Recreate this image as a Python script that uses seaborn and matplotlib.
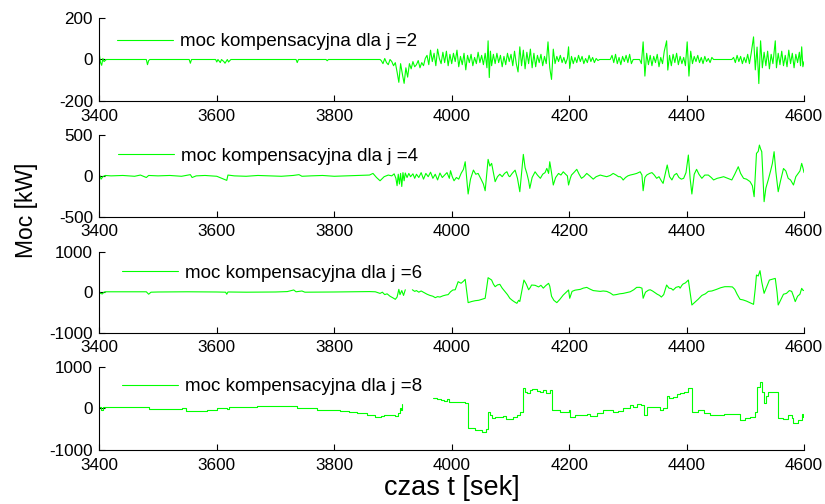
import numpy as np
import pandas as pd
import matplotlib
matplotlib.use("Agg")
import matplotlib.pyplot as plt
import seaborn as sns

# ---- axis ticks and labels -------------------------------------------------
time_ticks = [3400, 3600, 3800, 4000, 4200, 4400, 4600]
orders = [2, 4, 6, 8]
y_limits = [200, 500, 1000, 1000]
legend_text = "moc kompensacyjna dla j ={}"
x_label = "czas t [sek]"
y_label = "Moc [kW]"

# ---- compensating power, j = 2 ---------------------------------------------
t_j2 = [3400, 3402, 3404, 3406, 3408, 3412, 3480, 3482, 3484, 3486, 3553, 3555, 3557, 3598, 3600,
        3602, 3606, 3608, 3612, 3614, 3618, 3620, 3624, 3735, 3737, 3739, 3786, 3788, 3790, 3878,
        3880, 3883, 3886, 3889, 3892, 3895, 3898, 3901, 3904,
        3907, 3910, 3913, 3916, 3919, 3922, 3925,
        3928, 3931, 3934, 3937, 3940, 3943, 3946, 3949, 3952, 3955,
        3958, 3961, 3964, 3967, 3970, 3973, 3976, 3979, 3982, 3985, 3988, 3991, 3994, 3997, 4000,
        4003, 4006, 4009, 4012, 4015,
        4018, 4021, 4024, 4027, 4030, 4033, 4036, 4039, 4042, 4045, 4048, 4051, 4054, 4057, 4060,
        4062, 4064, 4066, 4068,
        4071, 4074, 4077, 4080, 4083, 4086, 4089, 4092, 4095, 4098, 4101, 4104, 4107, 4110,
        4113, 4116, 4119, 4122, 4125, 4128, 4131, 4134, 4137, 4140, 4143, 4146, 4149, 4152, 4155, 4158,
        4161, 4164, 4167, 4170, 4173, 4176, 4179, 4182, 4185, 4188, 4191, 4194, 4197, 4199, 4201,
        4204, 4207, 4210, 4213, 4216, 4219, 4222, 4225, 4228, 4231, 4234, 4237, 4240, 4243, 4246, 4249, 4252,
        4270, 4273, 4276, 4279, 4282, 4285, 4288, 4291, 4294, 4297, 4300, 4303, 4306, 4309, 4320,
        4323, 4326, 4329, 4332, 4335, 4338, 4341, 4344, 4347, 4350, 4353, 4356, 4359, 4362, 4366,
        4368, 4371, 4374, 4377, 4380, 4383, 4386, 4389, 4392, 4395,
        4398, 4401, 4404, 4407, 4410, 4413, 4416, 4419, 4422, 4425, 4428, 4431, 4434, 4437, 4440,
        4443, 4446, 4477,
        4480, 4483, 4486, 4489, 4492, 4495, 4498, 4501, 4504, 4507, 4510,
        4514, 4517, 4520, 4523, 4526, 4529, 4532, 4535, 4538, 4541, 4544, 4547, 4551, 4553, 4556,
        4559, 4562, 4565, 4568, 4571, 4574, 4577, 4580, 4583, 4586, 4589, 4592, 4594, 4596, 4598, 4600]
p_j2 = [25, -15, -28, 5, -10, 0, 0, -25, -5, 0, 0, -18, 0, 0, -12,
        0, -15, 0, -10, -18, 0, -12, 0, 0, -15, 0, 0, -6, 0, 0,
        -5, -20, 5, -15, -25, 0, -10, -30, -15,
        -60, -110, -20, -70, -115, -40, -85,
        -20, -45, -10, -35, -25, -5, -40, -15, -30, 5,
        20, -25, 45, -10, 30, -30, 50, 5, -20, 35, -15, 40, -30, 25, -20,
        30, -10, 45, -35, 15,
        -25, 30, -50, 20, -15, 25, -30, 10, -20, 35, -15, 20, -25, 30, -40,
        90, -87, 40, -30,
        25, -20, 30, -15, 20, -35, 15, -25, 30, -10, 25, -30, 40, -20,
        -60, 61, -30, 45, -45, 35, -20, 50, -40, 30, -35, 20, -15, 25, -30, 15,
        -20, 85, -40, -96, 50, -20, 15, -10, 20, -15, 10, -20, 5, 61, -43,
        15, -20, 10, -15, 20, -10, 15, -20, 5, -15, 20, -10, 10, -15, 5, -5, 0,
        0, 20, -15, 25, -20, 10, -25, 15, -10, 20, -15, 25, -20, 0, 0,
        -20, 85, -80, 30, -25, 20, -30, 15, -15, 25, -35, 10, -20, 40, 90,
        -51, 20, -30, 25, -15, 30, -25, 15, -20, 10,
        -30, 85, -80, 40, -20, 15, -10, 20, -15, 10, -20, 15, -10, 5, -15,
        10, 0, 0,
        10, -15, 20, -10, 15, -20, 10, -15, 25, -20, 30,
        109, -50, 60, -116, 90, -40, 35, -30, 40, -45, 25, -20, 90, -40, 30,
        -25, 40, -30, 20, -35, 45, -20, 30, -40, 25, -15, 35, -30, 61, -35, -10]

# ---- compensating power, j = 4 ---------------------------------------------
t_j4 = [3400, 3403, 3406, 3410, 3420, 3440, 3460, 3470, 3480, 3484, 3500, 3520, 3540, 3555, 3558,
        3565, 3580, 3600, 3617, 3619, 3630, 3650, 3670, 3690, 3710, 3730, 3740, 3745, 3760, 3780,
        3800, 3820, 3840, 3860, 3866, 3872, 3878, 3885, 3892, 3898, 3902,
        3905, 3907, 3909, 3911, 3913, 3915, 3917, 3919, 3921, 3924, 3927, 3930, 3934, 3937, 3940,
        3944, 3948, 3952, 3956, 3960, 3964, 3968, 3972, 3976, 3980, 3984, 3988, 3992, 3996, 3998, 4001,
        4004, 4008, 4012, 4016, 4020, 4023, 4028, 4032, 4037, 4041, 4045, 4050, 4054, 4057, 4062,
        4065, 4068, 4071, 4074, 4078, 4082, 4086, 4090, 4094, 4097, 4099, 4103, 4108, 4112, 4116,
        4119, 4122, 4125, 4128, 4131, 4133, 4137, 4142, 4146, 4151, 4155, 4159, 4162, 4165, 4167,
        4170, 4173, 4177, 4182, 4186, 4190, 4194, 4197, 4199,
        4202, 4204, 4208, 4213, 4217, 4221, 4225, 4230, 4235, 4241, 4246, 4253, 4258, 4264, 4270,
        4275, 4280, 4284, 4287, 4290, 4292, 4296, 4300, 4304, 4310, 4315, 4321, 4324, 4326, 4329,
        4332, 4337, 4341, 4345, 4349, 4353, 4357, 4360, 4364, 4367, 4371, 4375, 4379, 4383, 4387,
        4391, 4395, 4399,
        4403, 4406, 4409, 4413, 4417, 4421, 4426, 4431, 4437, 4442, 4446, 4452, 4458, 4463, 4470,
        4477, 4482, 4488, 4492, 4497, 4502, 4508, 4512, 4515, 4519, 4522, 4524, 4526, 4528, 4530,
        4532, 4535, 4539, 4543, 4546, 4549, 4552, 4556, 4560, 4565, 4569, 4573, 4577, 4582, 4586,
        4590, 4593, 4596, 4598, 4600]
p_j4 = [20, -40, -10, 5, 0, 5, -5, 10, -20, 5, 0, 5, -5, 15, -20,
        0, 5, -5, -55, 10, 0, -5, 5, 0, -5, 5, 15, -5, 0, 5,
        -5, 0, 5, 10, 30, -20, -60, -10, 10, 0, 25,
        -30, -120, 20, -100, 30, -130, 40, -60, 35, -20, 30, -10, 25, -30, 20,
        -20, 40, -40, 30, -10, 45, -30, 20, -50, 35, -20, 10, 40, -30, 63, -10,
        -60, -20, -40, 30, 80, 173, -222, -40, 71, 20, 30, -40, -100, -182, 202,
        120, 153, 40, -71, -10, 20, -10, 30, 51, 0, -10, 30, 70, -30, -194,
        40, 263, 100, 30, -60, -153, -20, 50, 10, -30, 20, 40, 92, 30, 173,
        40, -112, -20, 30, 10, 50, 20, 0, -112,
        -30, 10, 40, 80, 20, -30, -10, 30, 0, -40, -10, 10, 0, -10, 5,
        30, 10, -10, -10, -30, -51, -20, 0, 10, 20, 30, 50, 10, -182, -20,
        10, 30, 40, 10, -30, -10, -60, -92, 40, 133, -10, -50, 10, 30, -20,
        -40, -30, 40,
        255, -30, -222, 20, 80, 20, -30, 10, 10, -20, -50, -30, -20, -10, -30,
        -50, 20, 112, 30, -30, -40, -70, -120, -255, 275, 300, 377, 330, 296, 0,
        -316, -150, -50, 60, 150, 296, 50, -194, -60, 90, 60, -30, -50, -112, -10,
        30, 60, 153, 100, 40]

# ---- compensating power, j = 6 (NaN marks a gap in the record) -------------
t_j6 = [3400, 3402, 3405, 3408, 3410, 3480, 3484, 3488, 3500, 3550, 3600, 3615, 3617, 3619, 3650,
        3700, 3720, 3731, 3735, 3745, 3750, 3800, 3860, 3870, 3878, 3882, 3886, 3890, 3895, 3900,
        3904, 3907, 3910, 3912, 3915, 3918, 3921, 3927,
        3933, 3937, 3940, 3944, 3948, 3953, 3958, 3963, 3968, 3972, 3976, 3980, 3985, 3990, 3994,
        3998, 4002, 4006, 4011, 4016, 4020, 4023, 4028, 4034, 4040, 4046, 4051, 4057, 4062, 4065,
        4068, 4071, 4074, 4078, 4082, 4086, 4091, 4095, 4099, 4103, 4107, 4111, 4114, 4116, 4119,
        4123, 4127, 4131, 4134, 4136, 4142, 4148, 4152, 4156, 4160, 4165, 4167, 4170, 4174, 4179,
        4184, 4190, 4195, 4199,
        4201, 4205, 4210, 4215, 4219, 4224, 4230, 4235, 4241, 4247, 4253, 4258, 4264, 4270, 4275,
        4280, 4286, 4292, 4298, 4304, 4310, 4315, 4320, 4324, 4326, 4330, 4335, 4338, 4342, 4346,
        4350, 4354, 4357, 4361, 4366, 4370, 4374, 4377, 4382, 4387, 4389, 4392, 4394, 4398,
        4403, 4406, 4409, 4414, 4420, 4426, 4432, 4437, 4443, 4451, 4458, 4465, 4472, 4478, 4482,
        4486, 4491, 4496, 4502, 4508, 4514, 4517, 4519, 4522, 4525, 4528, 4532, 4536, 4541, 4546,
        4551, 4554, 4556, 4560, 4565, 4570, 4575, 4579, 4582, 4585, 4589, 4593, 4596, 4598, 4600]
p_j6 = [10, -30, -44, 0, 10, 10, -50, 0, 5, 10, 5, 0, -50, 5, 0,
        5, 15, 55, 10, 30, 0, 5, 15, 10, -30, 0, -60, -40, -100, -140,
        -176, -120, 70, -60, 40, -80, 60, np.nan,
        60, 20, 40, 0, 30, -10, -50, -80, -100, -135, -110, -120, -90, -70, -60,
        10, 54, 60, 260, 220, 270, 317, -258, -230, -210, -200, -176, -150, 358, 330,
        300, 200, 136, 180, 194, 100, 13, -60, -150, -200, -240, -275, -200, -230, 0,
        300, 200, 60, 120, 177, 170, 130, 170, 100, 160, 219, 150, -100, -200, -258,
        -180, -70, 0, 54,
        -150, 20, 50, 60, 70, 100, 119, 80, 40, 30, 20, 30, 20, -20, -70,
        -60, -40, -30, -10, 10, 60, 119, 120, 100, -150, 0, 50, 60, 30, -10,
        -50, -80, -120, -60, 177, 100, 90, 50, 120, 140, 100, 170, 202, 230,
        300, 0, -316, -250, -170, -80, -40, 20, 30, 70, 110, 136, 136, 130, 70,
        -50, -176, -190, -220, -260, -300, 100, 424, 400, 531, 250, -28, 120, 300, 320,
        341, 0, -316, -200, -50, -30, 40, 20, -100, -233, -100, -50, 95, 50, 40]

# ---- compensating power, j = 8 (NaN marks a gap in the record) -------------
t_j8 = [3400, 3403, 3407, 3484, 3540, 3548, 3583, 3600, 3612, 3617, 3620, 3668, 3737, 3771, 3790,
        3810, 3825, 3839, 3855, 3870, 3879, 3884, 3895, 3904, 3908, 3912, 3914, 3916, 3940,
        3968, 3975, 3982, 3987, 3992, 3996, 4001, 4011, 4023, 4028, 4040, 4051, 4058, 4062, 4065,
        4068, 4074, 4088, 4093, 4096, 4105, 4111, 4116, 4122, 4125, 4128, 4133, 4136, 4145, 4150,
        4156, 4160, 4165, 4167, 4170, 4185, 4199,
        4201, 4210, 4222, 4230, 4236, 4247, 4258, 4268, 4275, 4283, 4292, 4304, 4309, 4315, 4323,
        4327, 4332, 4345, 4355, 4360, 4366, 4370, 4377, 4383, 4389, 4395, 4403, 4409, 4420, 4429,
        4440, 4463, 4488, 4491, 4500, 4508, 4516, 4520, 4525, 4528, 4531, 4535, 4539, 4551, 4556,
        4565, 4573, 4580, 4582, 4590, 4596, 4598, 4600]
p_j8 = [30, -40, 24, -24, 0, -56, -40, 0, 20, -10, 40, 64, 0, -40, -50,
        -64, -90, -120, -150, -200, -190, -150, -170, -184, -120, 20, -40, 104, np.nan,
        240, 230, 200, 180, 220, 160, 160, 160, 140, -480, -520, -560, -500, -80, -150,
        -240, -200, -180, -260, -264, -200, -160, -80, 480, 400, 360, 450, 456, 420, 400,
        440, 370, 360, 430, -40, -80, -40,
        -200, -160, -150, -130, -180, -110, -40, -40, -80, -60, 0, 80, 40, 104, 80,
        -160, 40, 40, -40, 0, 304, 260, 280, 350, 360, 400, 480, -80, -40, -100,
        -160, -140, -140, -280, -220, -200, -80, 520, 640, 400, 120, 300, 400, 400, -240,
        -260, -160, -240, -360, -280, -136, -200, -180]

series = [(t_j2, p_j2), (t_j4, p_j4), (t_j6, p_j6), (t_j8, p_j8)]
for t, p in series:
    assert len(t) == len(p), (len(t), len(p))


def to_frame(t, p):
    """Table for seaborn; a NaN sample splits the record into separate runs."""
    df = pd.DataFrame({"t": t, "p": p})
    df["run"] = df["p"].isna().cumsum()
    return df.dropna()


sns.set_theme(style="white")
plt.rcParams["font.family"] = ["Liberation Sans", "DejaVu Sans"]
plt.rcParams["axes.unicode_minus"] = False
plt.rcParams["text.color"] = "black"

GREEN = "#00ff00"
fig = plt.figure(figsize=(8.25, 5.04), dpi=100)

left, width = 0.1204, 0.8542
panels = [(0.7996, 0.1647), (0.5700, 0.1621), (0.3399, 0.1607), (0.1071, 0.1653)]
legend_anchor = [(0.0247, 0.714), (0.0265, 0.743), (0.0318, 0.733), (0.0318, 0.760)]
draw_styles = ["default", "default", "default", "steps-post"]

axes = []
for i, (order, lim, (bottom, height)) in enumerate(zip(orders, y_limits, panels)):
    ax = fig.add_axes([left, bottom, width, height])
    df = to_frame(*series[i])
    sns.lineplot(data=df, x="t", y="p", units="run", estimator=None, ax=ax,
                 color=GREEN, linewidth=0.8, drawstyle=draw_styles[i], legend=False)
    ax.set_xlim(time_ticks[0], time_ticks[-1])
    ax.set_ylim(-lim, lim)
    ax.set_xticks(time_ticks)
    ax.set_yticks([-lim, 0, lim])
    ax.set_xlabel("")
    ax.set_ylabel("")
    sns.despine(ax=ax)
    for side in ("left", "bottom"):
        ax.spines[side].set_color("black")
        ax.spines[side].set_linewidth(0.8)
    ax.tick_params(bottom=True, left=True, direction="in", length=4, width=0.8,
                   colors="black", labelsize=12.3)
    ax.tick_params(axis="x", pad=5.5)
    ax.tick_params(axis="y", pad=4.5)
    ax.legend(handles=[ax.lines[0]], labels=[legend_text.format(order)],
              loc="center left", bbox_to_anchor=legend_anchor[i], frameon=False,
              borderpad=0, borderaxespad=0, handlelength=3.0, handletextpad=0.35,
              fontsize=13.5)
    axes.append(ax)

axes[-1].set_xlabel(x_label, fontsize=19.5, labelpad=2, color="black")
fig.text(27 / 825, 1 - 210 / 504, y_label, rotation=90, ha="center", va="center",
         fontsize=16.5, color="black")

fig.savefig("out.png", dpi=100, facecolor="white")
